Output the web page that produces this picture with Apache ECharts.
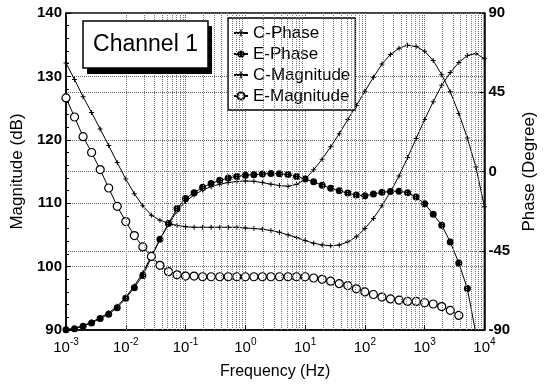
<!DOCTYPE html>
<html lang="en">
<head>
    <meta charset="UTF-8">
    <title>Channel 1 Bode plot</title>
    <script src="https://cdn.jsdelivr.net/npm/echarts@6/dist/echarts.min.js"></script>
    <style>
        html, body { margin: 0; padding: 0; background: #fff; }
    </style>
</head>
<body>
    <div id="main" style="width: 546px; height: 385px;"></div>
    <script>
        // frequency samples (Hz), 7 per decade
        const freq = [
            0.001, 0.00139, 0.00193, 0.00268, 0.00373, 0.00518, 0.0072,
            0.01, 0.0139, 0.0193, 0.0268, 0.0373, 0.0518, 0.072,
            0.1, 0.139, 0.193, 0.268, 0.373, 0.518, 0.72,
            1, 1.39, 1.93, 2.68, 3.73, 5.18, 7.2,
            10, 13.9, 19.3, 26.8, 37.3, 51.8, 72,
            100, 139, 193, 268, 373, 518, 720,
            1000, 1390, 1930, 2680, 3730, 5180, 7200,
            10000
        ];

        // phase in degrees
        const cPhase = [
            -89.8, -89.0, -87.5, -85.5, -83.0, -80.2, -76.5,
            -71.3, -65.0, -57.5, -48.0, -38.5, -30.0, -22.5,
            -17.0, -13.3, -10.5, -8.6, -7.2, -6.3, -5.7,
            -5.4, -5.6, -6.3, -7.2, -8.0, -8.4, -7.3,
            -4.5, 1.0, 7.0, 14.0, 21.5, 29.5, 37.5,
            45.5, 53.5, 61.0, 66.5, 70.0, 71.7, 71.0,
            68.3, 63.0, 55.0, 45.3, 33.0, 19.0, 2.5,
            -20.0
        ];
        const ePhase = [
            -89.8, -89.3, -87.8, -86.0, -83.5, -81.0, -77.3,
            -72.0, -66.0, -59.0, -48.8, -38.5, -29.5, -21.0,
            -15.3, -12.0, -9.0, -6.8, -5.0, -3.7, -2.8,
            -2.1, -1.8, -1.4, -1.2, -1.3, -1.7, -2.8,
            -4.3, -5.8, -7.8, -9.5, -11.0, -12.2, -13.4,
            -13.8, -12.8, -11.8, -11.3, -11.2, -12.0, -14.5,
            -18.3, -24.3, -30.5, -40.0, -52.0, -66.5, -92.0,
            null
        ];

        // magnitude in dB
        const cMag = [
            132.1, 129.5, 126.8, 124.3, 121.7, 119.1, 116.4,
            113.8, 111.5, 109.6, 108.1, 107.3, 106.8, 106.5,
            106.3, 106.2, 106.2, 106.2, 106.2, 106.2, 106.2,
            106.1, 106.0, 105.9, 105.7, 105.4, 105.0, 104.6,
            104.1, 103.7, 103.4, 103.3, 103.4, 103.9, 104.7,
            106.0, 107.6, 109.6, 111.8, 114.3, 117.2, 120.2,
            123.2, 126.0, 128.6, 130.6, 132.2, 133.3, 133.6,
            132.8
        ];
        const eMag = [
            126.6, 123.6, 120.5, 118.0, 115.3, 112.4, 109.5,
            107.1, 104.9, 103.1, 101.6, 100.2, 99.2, 98.7,
            98.5, 98.5, 98.4, 98.4, 98.4, 98.4, 98.4,
            98.4, 98.4, 98.4, 98.4, 98.4, 98.4, 98.4,
            98.4, 98.2, 98.0, 97.7, 97.3, 97.0, 96.5,
            96.0, 95.6, 95.2, 94.9, 94.7, 94.5, 94.5,
            94.3, 94.1, 93.7, 93.1, 92.3, null, null,
            null
        ];

        const seriesNames = ['C-Phase', 'E-Phase', 'C-Magnitude', 'E-Magnitude'];

        const font = '"Liberation Sans", Arial, sans-serif';
        const plus = 'path://M2,0H3V2H5V3H3V5H2V3H0V2H2Z';

        // log minor grid positions (2..9 in each decade)
        const minorLines = [];
        for (let e = -3; e < 4; e++) {
            for (let k = 2; k <= 9; k++) {
                minorLines.push({ xAxis: k * Math.pow(10, e) });
            }
        }

        const pairs = ys => freq.map((f, i) => [f, ys[i]]);

        const option = {
            animation: false,
            backgroundColor: '#fff',
            grid: {
                left: 66, right: 53, top: 13, bottom: 53,
                show: true, borderColor: '#000', borderWidth: 1.5
            },
            legend: {
                data: seriesNames,
                orient: 'vertical',
                left: 228, top: 18,
                padding: [6, 5, 5, 5],
                itemGap: 3,
                itemWidth: 14,
                itemHeight: 9,
                itemTextGap: 3,
                borderColor: '#000', borderWidth: 1.5,
                backgroundColor: '#fff',
                textStyle: { fontSize: 17, color: '#000', fontFamily: font, lineHeight: 18 }
            },
            graphic: [
                { type: 'rect', z: 100, shape: { x: 87, y: 26, width: 125, height: 48 }, style: { fill: '#000' } },
                { type: 'rect', z: 101, shape: { x: 83, y: 21, width: 125, height: 47 },
                  style: { fill: '#fff', stroke: '#000', lineWidth: 1.5 } },
                { type: 'text', z: 102, x: 145.5, y: 45,
                  style: { text: 'Channel 1', font: '23px ' + font, fill: '#000',
                           textAlign: 'center', textVerticalAlign: 'middle' } }
            ],
            xAxis: {
                type: 'log', logBase: 10, min: 0.001, max: 10000,
                name: 'Frequency (Hz)', nameLocation: 'middle', nameGap: 34,
                nameTextStyle: { fontSize: 16, color: '#000', fontFamily: font },
                axisLine: { onZero: false, lineStyle: { color: '#000', width: 1.5 } },
                axisTick: { inside: true, length: 5, lineStyle: { color: '#000' } },
                splitLine: { show: true, lineStyle: { type: 'dotted', color: '#666' } },
                axisLabel: {
                    margin: 7, color: '#000',
                    formatter: v => '{b|10}{s|' + Math.round(Math.log10(v)) + '}',
                    rich: {
                        b: { fontSize: 15, fontFamily: font, color: '#000', lineHeight: 18, verticalAlign: 'bottom' },
                        s: { fontSize: 10, fontFamily: font, color: '#000', lineHeight: 10, verticalAlign: 'top' }
                    }
                }
            },
            yAxis: [
                {
                    type: 'value', min: 90, max: 140, interval: 10, position: 'left',
                    name: 'Magnitude (dB)', nameLocation: 'middle', nameGap: 35, nameRotate: 90,
                    nameTextStyle: { fontSize: 17, color: '#000', fontFamily: font },
                    axisLine: { show: true, onZero: false, lineStyle: { color: '#000', width: 1.5 } },
                    axisTick: { inside: true, length: 5, lineStyle: { color: '#000' } },
                    minorTick: { show: true, splitNumber: 5, length: 3, lineStyle: { color: '#000' } },
                    splitLine: { show: true, lineStyle: { type: 'dotted', color: '#666' } },
                    axisLabel: { margin: 4, fontSize: 15, fontWeight: 'bold', color: '#000', fontFamily: font }
                },
                {
                    type: 'value', min: -90, max: 90, interval: 45, position: 'right',
                    name: 'Phase (Degree)', nameLocation: 'middle', nameGap: 29, nameRotate: 90,
                    nameTextStyle: { fontSize: 17, color: '#000', fontFamily: font },
                    axisLine: { show: true, onZero: false, lineStyle: { color: '#000', width: 1.5 } },
                    axisTick: { inside: true, length: 5, lineStyle: { color: '#000' } },
                    splitLine: { show: true, lineStyle: { type: 'dotted', color: '#666' } },
                    axisLabel: { margin: 4, fontSize: 15, fontWeight: 'bold', color: '#000', fontFamily: font }
                }
            ],
            series: [
                {
                    name: 'grid', type: 'line', data: [], z: 1, silent: true,
                    markLine: {
                        silent: true, symbol: 'none', label: { show: false },
                        lineStyle: { type: 'dotted', color: '#777', width: 1 },
                        data: minorLines
                    }
                },
                {
                    name: 'C-Phase', type: 'line', yAxisIndex: 1, data: pairs(cPhase),
                    symbol: plus, symbolSize: 5, z: 3,
                    lineStyle: { color: '#000', width: 1 }, itemStyle: { color: '#000' }
                },
                {
                    name: 'E-Phase', type: 'line', yAxisIndex: 1, data: pairs(ePhase),
                    symbol: 'circle', symbolSize: 7, z: 4,
                    lineStyle: { color: '#000', width: 1 }, itemStyle: { color: '#000' }
                },
                {
                    name: 'C-Magnitude', type: 'line', yAxisIndex: 0, data: pairs(cMag),
                    symbol: plus, symbolSize: 5, z: 3,
                    lineStyle: { color: '#000', width: 1 }, itemStyle: { color: '#000' }
                },
                {
                    name: 'E-Magnitude', type: 'line', yAxisIndex: 0, data: pairs(eMag),
                    symbol: 'circle', symbolSize: 8, z: 4,
                    lineStyle: { color: '#000', width: 1 },
                    itemStyle: { color: '#fff', borderColor: '#000', borderWidth: 1.2 }
                }
            ]
        };

        const myChart = echarts.init(document.getElementById('main'));
        myChart.setOption(option);
    </script>
</body>
</html>
